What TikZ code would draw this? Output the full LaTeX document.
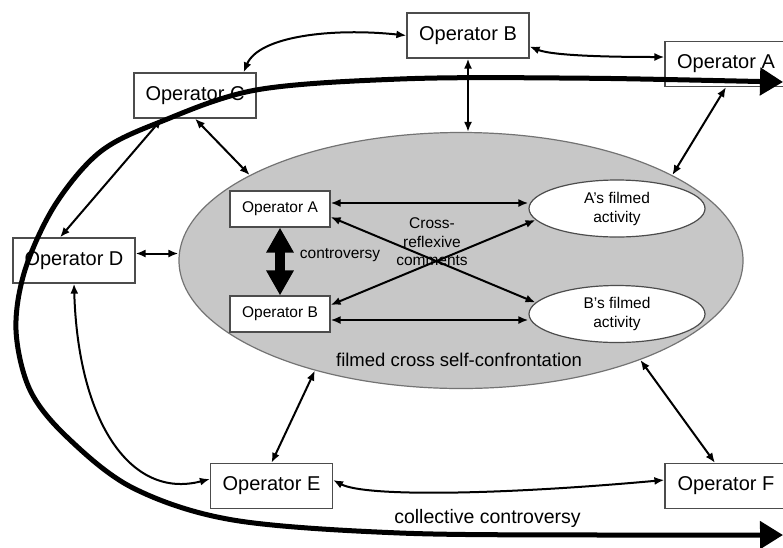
\documentclass[tikz,border=0pt]{standalone}
\usepackage{fontspec}
\setmainfont{Liberation Sans}
\usetikzlibrary{arrows.meta,shapes.geometric}

\tikzset{>={Latex[length=10pt,width=8pt]},
                 opbox/.style={draw=black!70, line width=1.2pt, fill=white, minimum width=122pt, minimum height=45pt, inner sep=0pt, font=\fontsize{20}{24}\selectfont},
                 inbox/.style={draw=black!70, line width=1.2pt, fill=white, minimum width=100pt, minimum height=36pt, inner sep=0pt, font=\fontsize{15.5}{18.5}\selectfont},
                  film/.style={ellipse, draw=black!70, line width=1.2pt, fill=white, minimum width=176pt, minimum height=57pt, inner sep=0pt, align=center, font=\fontsize{15.5}{19}\selectfont},
                  link/.style={<->, line width=2pt},
                   lbl/.style={align=center, font=\fontsize{15.5}{18.5}\selectfont}}

\begin{document}
\begin{tikzpicture}[x=1pt, y=-1pt]
            \useasboundingbox (0,0) rectangle (783,547);

            \node[ellipse, draw=black!55, line width=1.2pt, fill=black!22, minimum width=564pt, minimum height=256pt, inner sep=0pt]
                  at (461, 260.5) (session) {};

            \node[opbox] at (468,  35.5) (opB) {Operator B};
            \node[opbox] at (726,  64.0) (opA) {Operator A};
            \node[opbox] at (195,  95.5) (opC) {Operator C};
            \node[opbox] at ( 74, 260.5) (opD) {Operator D};
            \node[opbox] at (271.5, 486) (opE) {Operator E};
            \node[opbox] at (726, 486.0) (opF) {Operator F};

            \node[inbox] at (280, 209) (inA) {Operator A};
            \node[inbox] at (280, 314) (inB) {Operator B};

            \node[film] at (617, 208.5) (actA) {A’s filmed\\activity};
            \node[film] at (617, 314.0) (actB) {B’s filmed\\activity};

            \node[lbl] at (340, 255) (contro) {controversy};
            \node[lbl] at (432, 242) (cross)  {Cross-\\reflexive\\comments};
            \node[font=\fontsize{18.5}{22}\selectfont] at (459, 360) (fcsc) {filmed cross self-confrontation};
            \node[font=\fontsize{19.5}{23}\selectfont] at (487.5, 518) (collect) {collective controversy};

            % inside the confrontation
            \draw[link] ([yshift=6pt]inA.east) -- ([yshift=6pt]inA.east -| actA.west);
            \draw[link] ([yshift=-6pt]inB.east) -- ([yshift=-6pt]inB.east -| actB.west);
            \draw[link] ([yshift=-8pt]inA.east) -- (actB.172);
            \draw[link] ([yshift=9pt]inB.east) -- (actA.188);
            \draw[line width=10pt, {Triangle[length=25pt,width=26pt]}-{Triangle[length=25pt,width=26pt]}]
                   (inA) -- (inB);

            % operators round it
            \draw[link] ([xshift=-13pt]opC.north east) .. controls +(15,-36) and +(-75,-8) .. (opB.west);
            \draw[link] ([yshift=-11pt]opB.east) .. controls +(25,10) and +(-40,0) .. ([yshift=7pt]opA.west);
            \draw[link] (opB.south) -- (opB.south |- session.north);
            \draw[link] (opA.south) -- (session.22);
            \draw[link] (opC.south) -- (session.158);
            \draw[link] ([xshift=-33pt]opC.south) -- ([xshift=-14pt]opD.north);
            \draw[link] ([yshift=7pt]opD.east) -- ([yshift=7pt]opD.east -| session.west);
            \draw[link] (opD.south) .. controls +(4,137) and +(-80,21) .. ([yshift=7pt]opE.west);
            \draw[link] (opE.north) -- (session.217);
            \draw[link] ([xshift=-11pt]opF.north) -- (session.331);
            \draw[link] ([yshift=6pt]opE.east) .. controls +(32,17) and +(-165,15) .. ([yshift=6pt]opF.west);

            % collective controversy
            \coordinate (ccTop) at (783, 82);
            \coordinate (ccBot) at (783, 535);
            \draw[line width=5pt, {Triangle[length=23pt,width=27pt]}-{Triangle[length=23pt,width=27pt]}]
                plot[smooth, tension=0.55] coordinates {(ccTop) (560,78) (400,79) (256,90) (160,122) (100,152)
                                                        (55,205) (25,270) (16,330) (30,390) (67,437) (133,488)
                                                        (233,520) (400,533) (600,535) (ccBot)};
        \end{tikzpicture}
\end{document}
